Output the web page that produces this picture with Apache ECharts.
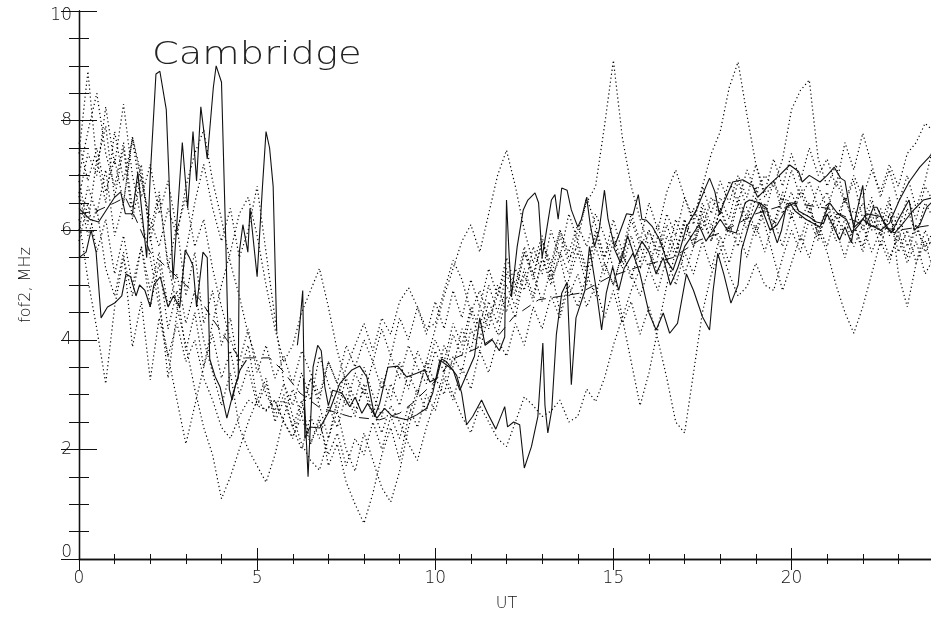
<!DOCTYPE html>
<html>
<head>
<meta charset="utf-8">
<title>Cambridge foF2</title>
<script src="https://cdn.jsdelivr.net/npm/echarts@6.0.0/dist/echarts.min.js"></script>
<style>
  html, body { margin: 0; padding: 0; background: #fff; }
  #chart { width: 931px; height: 621px; }
</style>
</head>
<body>
<div id="chart"></div>
<script>
// x ticks / y ticks
const xTickLabels = ['0', '5', '10', '15', '20'];
const yTickLabels = ['0', '2', '4', '6', '8', '10'];

// 15 min sampling for the dotted days
const step = 0.25;
const ut = Array.from({ length: 97 }, (_, i) => i * step);

const d1 = [7.4, 8.9, 7.2, 7.9, 6.6, 7.5, 6.2, 7.0,
  6.0, 6.7, 5.3, 6.1, 4.8, 5.6, 4.3, 4.9,
  3.9, 4.4, 3.4, 3.9, 2.9, 3.3, 2.6, 3.0,
  2.4, 2.9, 2.1, 2.6, 1.7, 2.1, 1.4, 1.0,
  0.65, 1.2, 1.9, 2.4, 1.8, 2.6, 3.1, 2.7,
  3.3, 3.0, 3.7, 3.4, 4.2, 3.8, 4.5, 4.1,
  4.8, 4.4, 5.2, 4.7, 5.5, 5.0, 5.6, 5.2,
  5.8, 5.3, 6.0, 5.5, 5.9, 5.4, 6.2, 5.7,
  6.0, 5.6, 6.3, 5.9, 6.6, 6.1, 6.8, 7.4,
  7.8, 8.6, 9.07, 8.1, 7.2, 6.6, 6.9, 6.3,
  6.7, 6.2, 6.5, 5.9, 6.3, 5.8, 6.2, 5.7,
  6.1, 5.6, 6.0, 5.5, 5.9, 5.4, 5.8, 5.2,
  5.5];
const d2 = [7.0, 7.8, 8.5, 7.4, 6.8, 7.6, 6.4, 7.2,
  5.8, 6.6, 5.4, 4.6, 3.9, 3.1, 2.4, 1.9,
  1.1, 1.5, 2.0, 2.5, 2.9, 2.7, 2.9, 2.5,
  2.2, 2.8, 3.3, 2.9, 3.6, 3.2, 2.8, 3.4,
  3.0, 3.6, 3.1, 3.7, 3.3, 3.9, 3.5, 3.2,
  3.8, 3.4, 4.1, 3.7, 4.5, 4.0, 4.7, 4.3,
  5.0, 4.6, 5.3, 4.8, 5.5, 5.1, 5.9, 5.4,
  6.0, 6.5, 6.8, 7.9, 9.1, 7.7, 6.8, 6.2,
  5.7, 6.1, 5.4, 5.9, 5.2, 5.7, 6.2, 5.8,
  6.4, 6.0, 6.6, 6.2, 6.8, 6.3, 6.9, 6.5,
  7.1, 6.6, 6.9, 6.4, 6.7, 6.2, 6.6, 6.1,
  6.5, 6.0, 6.4, 5.9, 6.3, 5.7, 6.1, 5.6,
  5.9];
const d3 = [6.6, 7.4, 7.0, 8.25, 7.2, 8.3, 7.0, 6.2,
  5.5, 4.6, 3.7, 2.9, 2.1, 2.8, 3.5, 4.3,
  5.0, 5.6, 6.3, 6.6, 5.9, 5.0, 4.2, 3.6,
  3.9, 4.5, 4.9, 5.3, 4.6, 3.8, 3.2, 2.7,
  3.1, 2.6, 3.3, 2.9, 3.6, 3.1, 3.8, 3.4,
  4.0, 3.6, 4.3, 3.9, 4.6, 4.2, 5.0, 4.5,
  5.2, 4.8, 5.6, 5.1, 5.8, 5.3, 6.0, 5.5,
  5.7, 5.2, 5.9, 5.4, 5.0, 5.6, 5.1, 5.7,
  5.3, 5.9, 5.5, 6.2, 5.8, 6.4, 6.0, 6.6,
  6.3, 6.9, 6.5, 7.1, 6.7, 7.0, 6.8, 7.3,
  8.2, 8.55, 8.74, 7.3, 6.8, 7.2, 6.5, 6.9,
  6.2, 6.6, 5.9, 6.3, 5.6, 6.0, 5.4, 5.8,
  5.2];
const d4 = [6.2, 5.1, 4.2, 3.2, 4.6, 5.5, 4.8, 5.7,
  4.9, 5.6, 4.6, 5.2, 4.3, 4.9, 4.0, 3.4,
  2.8, 3.4, 2.4, 2.0, 1.7, 1.4, 1.9, 2.6,
  3.1, 2.6, 3.3, 2.8, 2.2, 2.7, 2.0, 1.6,
  2.3, 1.8, 1.3, 1.04, 1.6, 2.4, 3.0, 3.6,
  4.2, 4.8, 5.3, 5.8, 6.1, 5.6, 6.3, 7.0,
  7.46, 6.8, 6.0, 5.4, 5.9, 5.1, 5.5, 4.8,
  5.2, 4.6, 5.0, 4.4, 4.9, 4.3, 4.7, 4.1,
  4.6, 4.0, 3.3, 2.5, 2.3, 3.4, 4.5, 5.2,
  5.6, 6.1, 5.7, 6.3, 5.9, 6.4, 6.0, 6.6,
  6.2, 6.7, 6.3, 6.8, 6.4, 6.9, 6.5, 7.0,
  6.6, 7.1, 6.7, 7.2, 6.8, 7.4, 7.6, 7.95,
  7.8];
const d5 = [6.0, 6.8, 6.3, 7.1, 5.9, 6.5, 7.7, 6.9,
  6.2, 5.7, 6.4, 5.9, 6.8, 7.4, 7.83, 6.9,
  6.2, 5.4, 4.8, 4.1, 3.6, 3.0, 2.7, 3.2,
  2.6, 2.1, 1.8, 1.62, 2.2, 2.9, 3.5, 3.9,
  4.3, 3.8, 4.4, 4.1, 4.7, 4.95, 4.6, 4.2,
  4.3, 4.9, 5.45, 5.1, 4.5, 4.9, 4.4, 4.8,
  5.3, 4.9, 5.6, 5.2, 5.8, 5.4, 6.0, 5.6,
  6.1, 5.7, 6.3, 5.9, 5.3, 4.4, 3.6, 2.8,
  3.4, 4.2, 5.0, 5.6, 6.1, 5.7, 6.4, 6.0,
  6.6, 6.2, 6.9, 6.4, 6.0, 6.5, 6.1, 6.7,
  6.3, 6.8, 6.4, 6.0, 5.6, 5.0, 4.5, 4.12,
  4.6, 5.2, 5.8, 5.4, 6.0, 5.5, 6.1, 5.7,
  6.0];
const d6 = [5.8, 6.5, 5.6, 6.2, 5.2, 5.9, 5.0, 5.7,
  4.6, 5.4, 4.2, 4.9, 3.8, 4.5, 3.5, 4.1,
  3.3, 3.8, 3.0, 3.5, 2.8, 3.2, 2.5, 2.9,
  2.4, 2.0, 2.6, 2.2, 2.8, 2.4, 3.0, 2.6,
  3.2, 2.7, 2.3, 2.8, 2.5, 2.1, 1.8, 2.4,
  2.9, 3.4, 3.0, 2.6, 2.3, 2.8, 2.5, 2.2,
  2.05, 2.5, 2.96, 2.8, 2.6, 2.7, 2.9, 2.5,
  2.6, 3.1, 2.87, 3.3, 3.9, 4.4, 4.9, 5.3,
  5.7, 5.2, 5.9, 5.5, 6.2, 5.8, 6.5, 6.1,
  5.7, 5.2, 4.8, 4.97, 5.4, 5.0, 4.9, 5.5,
  6.0, 5.6, 6.2, 5.8, 6.4, 6.0, 6.6, 6.1,
  5.7, 6.3, 5.9, 6.5, 6.0, 6.6, 6.2, 6.8,
  6.5];
const d7 = [7.6, 6.9, 7.5, 6.7, 7.3, 6.5, 7.7, 7.0,
  5.9, 4.8, 3.3, 4.5, 5.6, 6.5, 7.2, 6.4,
  5.8, 6.4, 5.5, 6.0, 6.8, 5.6, 4.4, 3.2,
  2.8, 3.4, 2.9, 3.7, 3.2, 2.7, 3.3, 2.9,
  3.5, 3.0, 2.6, 3.2, 2.8, 3.4, 3.0, 3.6,
  3.2, 3.9, 3.5, 4.2, 3.8, 4.6, 4.2, 5.0,
  4.5, 5.3, 4.9, 5.7, 5.2, 6.0, 5.5, 6.3,
  5.8, 6.6, 6.1, 5.5, 6.2, 5.6, 6.3, 5.8,
  6.5, 6.0, 6.7, 7.1, 6.6, 6.2, 6.8, 6.3,
  6.9, 6.5, 7.0, 6.6, 7.2, 6.7, 7.3, 6.8,
  7.4, 6.9, 7.5, 7.0, 7.3, 6.8, 7.6, 7.1,
  7.77, 7.2, 6.6, 7.1, 6.5, 7.0, 6.4, 6.9,
  7.6];
const d8 = [6.7, 5.9, 6.4, 5.3, 4.8, 5.6, 3.87, 4.7,
  3.27, 4.4, 3.7, 4.3, 3.6, 4.0, 3.3, 2.9,
  2.4, 2.2, 2.6, 2.9, 2.8, 2.72, 2.9, 2.5,
  2.23, 2.6, 2.1, 2.5, 1.9, 2.3, 1.7, 2.2,
  1.9, 2.5, 2.0, 2.6, 2.2, 2.8, 2.4, 3.0,
  2.7, 3.3, 2.9, 3.5, 3.1, 3.8, 3.4, 4.0,
  3.7, 4.3, 3.9, 4.6, 4.2, 4.8, 4.4, 5.0,
  4.6, 5.2, 4.8, 5.4, 5.0, 5.6, 5.2, 4.8,
  5.3, 4.9, 5.5, 5.0, 5.6, 5.2, 5.8, 5.3,
  5.9, 5.4, 6.0, 5.5, 6.1, 5.6, 6.2, 5.7,
  6.3, 5.8, 6.4, 5.9, 6.5, 6.0, 5.5, 6.1,
  5.6, 6.2, 5.7, 6.3, 5.8, 6.4, 5.9, 6.5,
  6.2];
const d9 = [6.9, 6.1, 7.3, 6.5, 7.8, 6.9, 7.65, 6.6,
  7.2, 6.3, 6.9, 6.0, 6.6, 5.7, 6.2, 5.3,
  4.6, 4.0, 3.6, 4.2, 3.4, 3.9, 3.3, 3.7,
  3.2, 3.8, 3.4, 3.0, 3.6, 3.2, 3.9, 3.5,
  4.0, 3.6, 4.2, 3.7, 4.4, 4.0, 4.6, 4.1,
  4.7, 4.2, 4.9, 4.4, 5.1, 4.6, 5.3, 4.8,
  5.5, 5.0, 5.7, 5.2, 4.7, 5.3, 4.5, 5.1,
  5.6, 5.0, 5.7, 5.2, 5.8, 5.3, 5.9, 5.4,
  6.0, 5.5, 6.1, 5.6, 6.2, 5.7, 6.3, 5.8,
  6.4, 5.9, 6.5, 6.0, 6.6, 6.1, 5.5, 4.9,
  5.4, 5.9, 5.5, 6.1, 5.7, 6.3, 5.9, 6.4,
  6.0, 6.5, 6.1, 6.6, 5.2, 4.6, 5.4, 6.0,
  5.6];

// solid days, own times (null = missing)
const s1T = [0, 0.3, 0.55, 0.8, 1.0, 1.17, 1.3, 1.5, 1.65, 1.9, 2.0, 2.16, 2.27, 2.45, 2.64, 2.9, 3.05, 3.2, 3.3, 3.42,
  3.6, 3.77, 3.85, 4.0, 4.12, 4.22, 4.3, 4.4, 4.47, 4.5, 4.6, 4.74, 4.8, 5.0, 5.15, 5.25, 5.35, 5.45, 5.55, 5.8,
  6.3, 6.43, 6.57, 6.7, 6.8, 6.9, 7.0, 7.12, 7.38, 7.6, 7.75, 7.94, 8.1, 8.36, 8.58, 8.8, 9.2, 9.48, 9.76, 9.93,
  10.13, 10.3, 10.5, 10.69, 10.9, 11.1, 11.25, 11.4, 11.6, 11.8, 11.95, 12.0, 12.07, 12.14, 12.3, 12.47, 12.6, 12.8, 12.9, 13.0,
  13.1, 13.26, 13.36, 13.45, 13.55, 13.7, 13.82, 14.0, 14.1, 14.25, 14.35, 14.47, 14.6, 14.75, 14.85, 15.03, 15.2, 15.37, 15.55, 15.7,
  15.8, 15.93, 16.1, 16.3, 16.5, 16.67, 16.85, 17.05, 17.33, 17.6, 17.7, 17.85, 17.98, 18.1, 18.35, 18.63, 18.9, 19.05, 19.2, 19.33,
  19.66, 19.95, 20.2, 20.3, 20.5, 20.8, 21.0, 21.2, 21.38, 21.5, 21.63, 21.75, 22.0, 22.2, 22.5, 22.75, 23.03, 23.3, 23.6, 23.87, 24.0];
const s1V = [6.4, 6.2, 6.15, 6.4, 6.6, 6.7, 6.3, 6.3, 7.05, 5.5, 7.0, 8.85, 8.9, 8.2, 5.1, 7.6, 6.4, 7.8, 6.9, 8.25,
  7.3, 8.6, 9.0, 8.7, 5.8, 3.1, 2.9, 3.2, 3.3, 5.6, 6.1, 5.6, 6.4, 5.15, 6.8, 7.8, 7.5, 6.8, 4.15, null,
  3.3, 1.5, 3.5, 3.9, 3.8, 3.14, 2.8, 3.08, 3.03, 2.78, 2.95, 2.66, 2.84, 2.57, 2.75, 2.6, 2.54, 2.63, 2.75, 3.03,
  3.63, 3.55, 3.45, 3.08, 3.4, 3.7, 4.4, 3.9, 4.0, 3.8, 4.05, 6.55, 5.6, 4.78, 5.7, 6.37, 6.55, 6.68, 6.5, 5.5,
  5.9, 6.55, 6.65, 6.2, 6.77, 6.73, 6.37, 6.06, 6.2, 6.6, 6.1, 5.7, 6.0, 6.73, 6.2, 5.7, 6.0, 6.3, 6.28, 6.65,
  6.2, 6.18, 6.06, 5.82, 5.45, 5.27, 5.6, 6.06, 6.37, 6.8, 6.95, 6.7, 6.28, 6.5, 6.88, 6.92, 6.82, 6.6, 6.7, 6.8,
  7.0, 7.19, 7.07, 6.88, 7.0, 6.88, 7.0, 7.15, 6.95, 6.9, 6.42, 6.05, 6.2, 6.1, 6.0, 6.13, 6.55, 6.88, 7.15, 7.34, 7.45];

const s2T = [0, 0.2, 0.34, 0.48, 0.62, 0.8, 1.0, 1.2, 1.32, 1.45, 1.6, 1.7, 1.85, 2.0, 2.1, 2.28, 2.5, 2.65, 2.83, 2.98,
  3.1, 3.2, 3.3, 3.48, 3.6, 3.67, 3.82, 3.96, 4.15, 4.2, 4.33, 4.52, 4.7, 4.9, 6.13, 6.2, 6.28, 6.32, 6.34, 6.48,
  6.76, 7.04, 7.32, 7.66, 7.88, 8.08, 8.3, 8.44, 8.67, 8.95, 9.2, 9.48, 9.7, 9.85, 10.04, 10.18, 10.32, 10.6, 10.74, 10.88,
  11.05, 11.3, 11.47, 11.7, 11.95, 12.03, 12.2, 12.37, 12.5, 12.7, 12.88, 13.02, 13.08, 13.16, 13.27, 13.4, 13.55, 13.7, 13.82, 13.95,
  14.2, 14.33, 14.5, 14.67, 14.8, 14.98, 15.15, 15.3, 15.55, 15.75, 16.0, 16.2, 16.4, 16.58, 16.8, 17.05, 17.25, 17.5, 17.7, 17.8,
  17.93, 18.1, 18.3, 18.5, 18.6, 18.82, 19.1, 19.3, 19.45, 19.6, 19.72, 19.85, 20.1, 20.2, 20.5, 20.7, 20.9, 21.0, 21.15, 21.35,
  21.5, 21.68, 21.8, 22.0, 22.1, 22.3, 22.4, 22.65, 22.8, 23.0, 23.3, 23.45, 23.6, 23.8, 24.0];
const s2V = [5.5, 5.6, 6.0, 5.6, 4.4, 4.6, 4.67, 4.8, 5.2, 5.15, 4.8, 5.0, 4.9, 4.6, 5.0, 5.15, 4.6, 4.8, 4.6, 5.64,
  5.5, 5.35, 4.6, 5.6, 5.5, 3.65, 3.33, 3.14, 2.57, 2.6, 3.03, 3.45, 3.63, null, 3.9, 4.3, 4.9, 3.2, 2.2, 2.41,
  2.39, 2.72, 3.2, 3.45, 3.52, 3.32, 2.6, 2.84, 3.5, 3.52, 3.32, 3.39, 3.45, 3.23, 3.3, 3.65, 3.6, 3.35, 3.03, 2.45,
  2.6, 2.9, 2.66, 2.37, 2.78, 2.41, 2.5, 2.45, 1.66, 2.05, 2.6, 3.94, 2.8, 2.3, 2.72, 4.1, 4.85, 5.05, 3.18, 4.4,
  4.9, 5.7, 5.0, 4.18, 4.85, 5.33, 4.9, 5.3, 5.58, 5.2, 4.49, 4.18, 4.49, 4.12, 4.3, 5.2, 4.9, 4.42, 4.18, 4.9,
  5.58, 5.2, 4.67, 5.0, 5.64, 6.13, 6.5, 6.4, 6.06, 5.77, 6.0, 6.42, 6.5, 6.35, 6.24, 6.15, 6.12, 6.3, 6.1, 5.82,
  6.06, 5.77, 6.24, 6.82, 6.1, 6.42, 6.42, 6.06, 5.95, 6.2, 6.55, 6.0, 6.1, 6.42, 6.55];

const s3T = [15.0, 15.2, 15.4, 15.6, 15.8, 16.0, 16.2, 16.4, 16.6, 16.8, 17.0, 17.2, 17.4, 17.6, 17.8, 18.0, 18.2, 18.45, 18.7, 18.82,
  19.1, 19.4, 19.6, 19.95, 20.1, 20.4, 20.8, 21.07, 21.3, 21.54, 21.7, 21.9, 22.1, 22.5, 22.75, 22.9, 23.1, 23.4, 23.7, 24.0];
const s3V = [5.7, 5.4, 5.9, 5.5, 5.8, 5.6, 5.2, 5.5, 5.0, 5.3, 5.7, 5.9, 6.1, 5.8, 6.0, 6.2, 6.0, 5.95, 6.5, 6.55,
  6.5, 6.0, 6.1, 6.5, 6.35, 6.2, 6.06, 6.5, 6.3, 6.2, 5.95, 6.1, 6.3, 6.25, 6.0, 5.95, 6.1, 6.35, 6.55, 6.6];

// dashed mean curve
const meanT = [0, 0.5, 1.0, 1.3, 1.6, 2.0, 2.5, 3.0, 3.4, 3.77, 4.15, 4.5, 5.35, 5.7, 6.2, 6.76, 7.6, 8.44, 9.0, 9.37,
  9.93, 10.5, 11.25, 11.8, 12.2, 12.9, 14.05, 14.9, 15.7, 16.67, 17.42, 18.0, 19.0, 20.0, 21.0, 22.0, 23.0, 24.0];
const meanV = [6.3, 6.35, 6.5, 6.6, 6.2, 5.6, 5.3, 5.0, 4.73, 4.36, 4.0, 3.67, 3.67, 3.45, 3.03, 2.76, 2.6, 2.54, 2.66, 2.85,
  3.2, 3.65, 3.87, 4.1, 4.42, 4.73, 4.85, 5.15, 5.33, 5.5, 5.82, 5.95, 6.3, 6.5, 6.4, 6.1, 6.0, 6.1];

const FONT = 'DejaVu Sans';
const INK = '#111';

function pairs(t, v) {
  return t.map((x, i) => [x, v[i]]);
}

let dotted = [d1, d2, d3, d4, d5, d6, d7, d8, d9].map(function (d, k) {
  return {
    name: 'day' + (k + 1),
    type: 'line',
    data: pairs(ut, d),
    showSymbol: false,
    silent: true,
    lineStyle: { color: '#000', width: 1.2, type: [1.2, 2.8] }
  };
});

let solid = [[s1T, s1V], [s2T, s2V], [s3T, s3V]].map(function (s, k) {
  return {
    name: 'solid' + (k + 1),
    type: 'line',
    data: pairs(s[0], s[1]),
    showSymbol: false,
    silent: true,
    connectNulls: false,
    lineStyle: { color: INK, width: 1.1 }
  };
});

let mean = {
  name: 'mean',
  type: 'line',
  data: pairs(meanT, meanV),
  showSymbol: false,
  silent: true,
  lineStyle: { color: INK, width: 1, type: [10, 7] }
};

const labelFont = { fontFamily: FONT, fontWeight: 200, fontSize: 17, color: INK };

function xAx(pos, major, withLabels) {
  return {
    type: 'value', position: pos, min: 0, max: 24,
    interval: major ? 5 : 1,
    name: withLabels ? 'UT' : '',
    nameLocation: 'middle', nameGap: 37,
    nameTextStyle: { fontFamily: FONT, fontWeight: 200, fontSize: 16, color: INK },
    axisLine: { show: major, lineStyle: { color: INK, width: 1.3 } },
    axisTick: { show: true, inside: true, length: major ? 11 : 5, lineStyle: { color: INK, width: 1 } },
    axisLabel: Object.assign({
      show: withLabels, margin: 11, showMaxLabel: false,
      formatter: function (v) { return xTickLabels.indexOf(String(v)) >= 0 ? String(v) : ''; }
    }, labelFont),
    splitLine: { show: false }
  };
}

function yAx(pos, major, withLabels) {
  return {
    type: 'value', position: pos, min: 0, max: 10,
    interval: major ? 2 : 0.5,
    name: withLabels ? 'fof2, MHz' : '',
    nameLocation: 'middle', nameGap: 45,
    nameTextStyle: { fontFamily: FONT, fontWeight: 200, fontSize: 16, color: INK },
    axisLine: { show: major, lineStyle: { color: INK, width: 1.3 } },
    axisTick: { show: true, inside: true, length: major ? 18 : 10, lineStyle: { color: INK, width: 1 } },
    axisLabel: Object.assign({
      show: withLabels, margin: 7,
      // end labels sit inside the frame, IDL style
      formatter: function (v) {
        const s = String(v);
        if (yTickLabels.indexOf(s) < 0) return '';
        if (s === yTickLabels[0]) return '{lo|' + s + '}';
        if (s === yTickLabels[yTickLabels.length - 1]) return '{hi|' + s + '}';
        return s;
      },
      rich: {
        lo: Object.assign({ padding: [0, 0, 12, 0] }, labelFont),
        hi: Object.assign({ padding: [10, 0, 0, 0] }, labelFont)
      }
    }, labelFont),
    splitLine: { show: false }
  };
}

let option = {
  animation: false,
  backgroundColor: '#fff',
  grid: { left: 79, right: -3, top: 11, bottom: 62, containLabel: false, outerBoundsMode: 'none' },
  xAxis: [xAx('bottom', true, true), xAx('bottom', false, false), xAx('top', true, false), xAx('top', false, false)],
  yAxis: [yAx('left', true, true), yAx('left', false, false), yAx('right', true, false), yAx('right', false, false)],
  graphic: [{
    type: 'text', left: 152, top: 40, silent: true, scaleX: 1.2,
    style: { text: 'Cambridge', font: '200 32px "DejaVu Sans"', fill: '#222' }
  }],
  series: dotted.concat([mean], solid)
};

let myChart = echarts.init(document.getElementById('chart'));
myChart.setOption(option);

window.addEventListener('resize', function () {
  myChart.resize();
});
</script>
</body>
</html>
